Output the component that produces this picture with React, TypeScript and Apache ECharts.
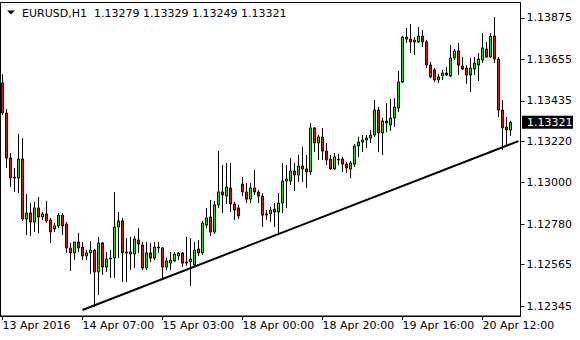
import React, { useEffect, useRef } from "react";
import * as echarts from "echarts";

const symbolLabel = "EURUSD,H1";
const xTickLabels = ["13 Apr 2016", "14 Apr 07:00", "15 Apr 03:00", "18 Apr 00:00", "18 Apr 20:00", "19 Apr 16:00", "20 Apr 12:00"];
const barsPerTick = 20;
const slotCount = 130;
const yTickValues = [1.12345, 1.12565, 1.1278, 1.13, 1.1322, 1.13435, 1.13655, 1.13875];

const opens = [
  1.1353, 1.1337, 1.13131, 1.1303, 1.13025, 1.13126, 1.12807, 1.12839, 1.12791, 1.12866,
  1.12818, 1.12834, 1.12802, 1.12754, 1.1277, 1.12828, 1.12781, 1.12653, 1.12627, 1.12685,
  1.12658, 1.12611, 1.12627, 1.12642, 1.12526, 1.1268, 1.12552, 1.12595, 1.126, 1.12765,
  1.12797, 1.12632, 1.12632, 1.12621, 1.12696, 1.12669, 1.12547, 1.12627, 1.126, 1.12658,
  1.12653, 1.12552, 1.12573, 1.12584, 1.12611, 1.12627, 1.12579, 1.12579, 1.12563, 1.12648,
  1.12627, 1.12775, 1.12818, 1.12738, 1.12882, 1.12951, 1.12929, 1.12972, 1.12887, 1.12866,
  1.12993, 1.12951, 1.12913, 1.12972, 1.12951, 1.12929, 1.12834, 1.12834, 1.1286, 1.12844,
  1.12892, 1.13009, 1.13009, 1.13062, 1.13041, 1.13089, 1.13073, 1.13057, 1.13291, 1.13211,
  1.13243, 1.13168, 1.13126, 1.13073, 1.13126, 1.13126, 1.13099, 1.13073, 1.13099, 1.13195,
  1.13216, 1.13227, 1.13237, 1.13253, 1.13386, 1.13264, 1.13328, 1.13307, 1.13344, 1.13397,
  1.13535, 1.13774, 1.13763, 1.13748, 1.13748, 1.13779, 1.13748, 1.13625, 1.13599, 1.13546,
  1.13567, 1.13583, 1.13567, 1.13663, 1.137, 1.1362, 1.13609, 1.13572, 1.13604, 1.13625,
  1.13652, 1.1371, 1.13668, 1.13779, 1.13657, 1.13386, 1.13296, 1.13279,
];
const closes = [
  1.1337, 1.13131, 1.13025, 1.13025, 1.13126, 1.12807, 1.12839, 1.12791, 1.12866, 1.12818,
  1.12834, 1.12797, 1.12738, 1.1277, 1.12828, 1.1277, 1.12653, 1.12627, 1.12685, 1.12653,
  1.12611, 1.12627, 1.12642, 1.12526, 1.1268, 1.12552, 1.12595, 1.126, 1.12765, 1.12797,
  1.12627, 1.12627, 1.12621, 1.12701, 1.12674, 1.12547, 1.12627, 1.126, 1.12658, 1.12653,
  1.12552, 1.12584, 1.12589, 1.12621, 1.12627, 1.12573, 1.12573, 1.12595, 1.12642, 1.12627,
  1.12786, 1.12813, 1.12738, 1.12882, 1.12951, 1.12935, 1.12977, 1.12887, 1.12855, 1.12823,
  1.12951, 1.12913, 1.12972, 1.12951, 1.12929, 1.12828, 1.12828, 1.12855, 1.12844, 1.12892,
  1.13009, 1.1302, 1.13062, 1.13041, 1.13089, 1.13073, 1.13057, 1.13291, 1.13211, 1.13243,
  1.13168, 1.13121, 1.13073, 1.13137, 1.13121, 1.13099, 1.13078, 1.13105, 1.13195, 1.13216,
  1.13227, 1.13237, 1.13253, 1.13386, 1.13264, 1.13328, 1.13317, 1.13344, 1.13402, 1.13535,
  1.13774, 1.13763, 1.13748, 1.13758, 1.13779, 1.13748, 1.13625, 1.13562, 1.13546, 1.13562,
  1.13583, 1.13572, 1.13663, 1.137, 1.13625, 1.13604, 1.13572, 1.13609, 1.13636, 1.13657,
  1.13716, 1.13668, 1.13779, 1.13657, 1.13386, 1.13291, 1.1328, 1.13321,
];
const lows = [
  1.1336, 1.13078, 1.12977, 1.12951, 1.12945, 1.12797, 1.12722, 1.12717, 1.12738, 1.12733,
  1.12802, 1.12786, 1.1268, 1.12738, 1.12759, 1.12722, 1.12627, 1.12531, 1.12589, 1.12632,
  1.12589, 1.12589, 1.12515, 1.1234, 1.12403, 1.1251, 1.12526, 1.12494, 1.12494, 1.126,
  1.12472, 1.12472, 1.12536, 1.12547, 1.12627, 1.12536, 1.12536, 1.12579, 1.12589, 1.12627,
  1.12483, 1.12536, 1.12536, 1.12579, 1.12589, 1.12552, 1.12558, 1.12451, 1.12558, 1.12611,
  1.12616, 1.12759, 1.12717, 1.12728, 1.12866, 1.12839, 1.12887, 1.12844, 1.12802, 1.12807,
  1.12929, 1.12892, 1.12892, 1.12935, 1.12892, 1.12765, 1.12802, 1.12791, 1.12765, 1.12733,
  1.12839, 1.12866, 1.12988, 1.12956, 1.13004, 1.13004, 1.12972, 1.13041, 1.13163, 1.13121,
  1.13121, 1.13094, 1.13068, 1.13068, 1.13094, 1.13057, 1.13052, 1.13025, 1.13083, 1.13137,
  1.13163, 1.13184, 1.13211, 1.13243, 1.13163, 1.13147, 1.13269, 1.13275, 1.13296, 1.13376,
  1.1353, 1.13742, 1.13689, 1.13678, 1.13742, 1.13721, 1.13609, 1.13556, 1.13535, 1.1353,
  1.13546, 1.13567, 1.13562, 1.13652, 1.13572, 1.13599, 1.13524, 1.13482, 1.13572, 1.1354,
  1.13636, 1.13663, 1.13663, 1.13636, 1.13349, 1.13174, 1.132, 1.13249,
];
const highs = [
  1.13577, 1.13391, 1.13158, 1.13078, 1.13259, 1.13237, 1.1294, 1.12892, 1.12898, 1.12924,
  1.12844, 1.12903, 1.12813, 1.12786, 1.12839, 1.12839, 1.12791, 1.1268, 1.12685, 1.12733,
  1.12685, 1.12642, 1.1269, 1.12648, 1.12712, 1.12685, 1.12632, 1.12642, 1.12951, 1.12844,
  1.12813, 1.12706, 1.12712, 1.12717, 1.12759, 1.12685, 1.12685, 1.1268, 1.12685, 1.12685,
  1.12658, 1.126, 1.12632, 1.12632, 1.12632, 1.12632, 1.12712, 1.12706, 1.12685, 1.12696,
  1.12797, 1.12866, 1.12908, 1.12903, 1.13168, 1.13094, 1.13105, 1.13105, 1.12898, 1.12882,
  1.1303, 1.12998, 1.12998, 1.13068, 1.12961, 1.12945, 1.12855, 1.12871, 1.12892, 1.12945,
  1.13105, 1.13094, 1.13131, 1.13105, 1.13147, 1.1319, 1.13147, 1.13317, 1.13296, 1.13253,
  1.13291, 1.13211, 1.13147, 1.13158, 1.13153, 1.13137, 1.1311, 1.13115, 1.13206, 1.13243,
  1.13253, 1.13253, 1.1328, 1.13439, 1.13402, 1.13344, 1.13423, 1.13445, 1.1345, 1.13593,
  1.13779, 1.13822, 1.13843, 1.13774, 1.13827, 1.13811, 1.13758, 1.13641, 1.13609, 1.13577,
  1.13599, 1.13615, 1.13732, 1.1371, 1.13742, 1.13668, 1.13625, 1.13663, 1.13668, 1.13689,
  1.13795, 1.13748, 1.13795, 1.1388, 1.13668, 1.13439, 1.13349, 1.13329,
];

const trendIndex = [20, 129];
const trendValues = [1.12324, 1.13221];

export default function App() {
  const ref = useRef<HTMLDivElement>(null);

  useEffect(() => {
    const el = ref.current;
    if (!el) return;
    const chart = echarts.init(el, null, { renderer: "svg" });
    const font = "DejaVu Sans";
    const bull = "#1fdf1f";
    const bear = "#e01212";
    const slots = Array.from({ length: slotCount }, (_, i) => String(i));
    const data = opens.map((o, i) => [o, closes[i], lows[i], highs[i]]);
    const yMin = 1.122919;
    const yMax = 1.139573;

    chart.setOption({
      animation: false,
      backgroundColor: "#ffffff",
      textStyle: { fontFamily: font },
      grid: {
        left: 0.5,
        top: 2.5,
        width: 520,
        height: 313.5,
        show: true,
        borderColor: "#000",
        borderWidth: 1,
        backgroundColor: "#fff",
        containLabel: false,
        outerBoundsMode: "none",
      },
      xAxis: {
        type: "category",
        data: slots,
        boundaryGap: true,
        axisLine: { show: true, lineStyle: { color: "#000", width: 1 } },
        axisTick: {
          show: true,
          interval: barsPerTick - 1,
          alignWithLabel: true,
          length: 4,
          lineStyle: { color: "#000" },
        },
        axisLabel: {
          interval: barsPerTick - 1,
          align: "left",
          margin: 4,
          color: "#000",
          fontSize: 11,
          fontFamily: font,
          hideOverlap: false,
          formatter: (v: string) => {
            const idx = Number(v);
            return idx % barsPerTick === 0 ? xTickLabels[idx / barsPerTick] ?? "" : "";
          },
        },
        splitLine: { show: false },
      },
      yAxis: {
        type: "value",
        position: "right",
        min: yMin,
        max: yMax,
        scale: true,
        axisLine: { show: true, lineStyle: { color: "#000" } },
        axisTick: { show: true, length: 4, customValues: yTickValues, lineStyle: { color: "#000" } },
        axisLabel: {
          customValues: yTickValues,
          formatter: (v: number) => v.toFixed(5),
          margin: 6,
          color: "#000",
          fontSize: 11,
          fontFamily: font,
        },
        splitLine: { show: false },
      },
      series: [
        {
          type: "candlestick",
          data,
          barWidth: 2,
          silent: true,
          itemStyle: {
            color: bull,
            color0: bear,
            borderColor: "#000",
            borderColor0: "#000",
            borderWidth: 1,
          },
        },
        {
          type: "line",
          data: trendIndex.map((x, k) => [x, trendValues[k]]),
          symbol: "none",
          silent: true,
          z: 5,
          lineStyle: { color: "#000", width: 2 },
        },
      ],
    });

    const last = closes.length - 1;
    const py = chart.convertToPixel({ yAxisIndex: 0 }, closes[last]) as number;
    const ohlc = [opens[last], highs[last], lows[last], closes[last]].map((v) => v.toFixed(5)).join(" ");

    chart.setOption({
      graphic: [
        {
          type: "polygon",
          shape: { points: [[7, 10.5], [15, 10.5], [11, 14.5]] },
          style: { fill: "#000" },
        },
        {
          type: "text",
          x: 22,
          y: 13,
          style: { text: symbolLabel, fill: "#000", fontSize: 11, fontFamily: font, verticalAlign: "middle" },
        },
        {
          type: "text",
          x: 94,
          y: 13,
          style: { text: ohlc, fill: "#000", fontSize: 11, fontFamily: font, verticalAlign: "middle" },
        },
        {
          type: "rect",
          shape: { x: 522, y: py - 6.5, width: 51, height: 13 },
          style: { fill: "#000" },
          z: 10,
        },
        {
          type: "text",
          x: 527,
          y: py,
          z: 11,
          style: {
            text: closes[last].toFixed(5),
            fill: "#fff",
            fontSize: 11,
            fontFamily: font,
            verticalAlign: "middle",
          },
        },
      ],
    });

    return () => chart.dispose();
  }, []);

  return (
    <div
      ref={ref}
      style={{ position: "fixed", left: 0, top: 0, width: 580, height: 340, background: "#fff" }}
    />
  );
}
